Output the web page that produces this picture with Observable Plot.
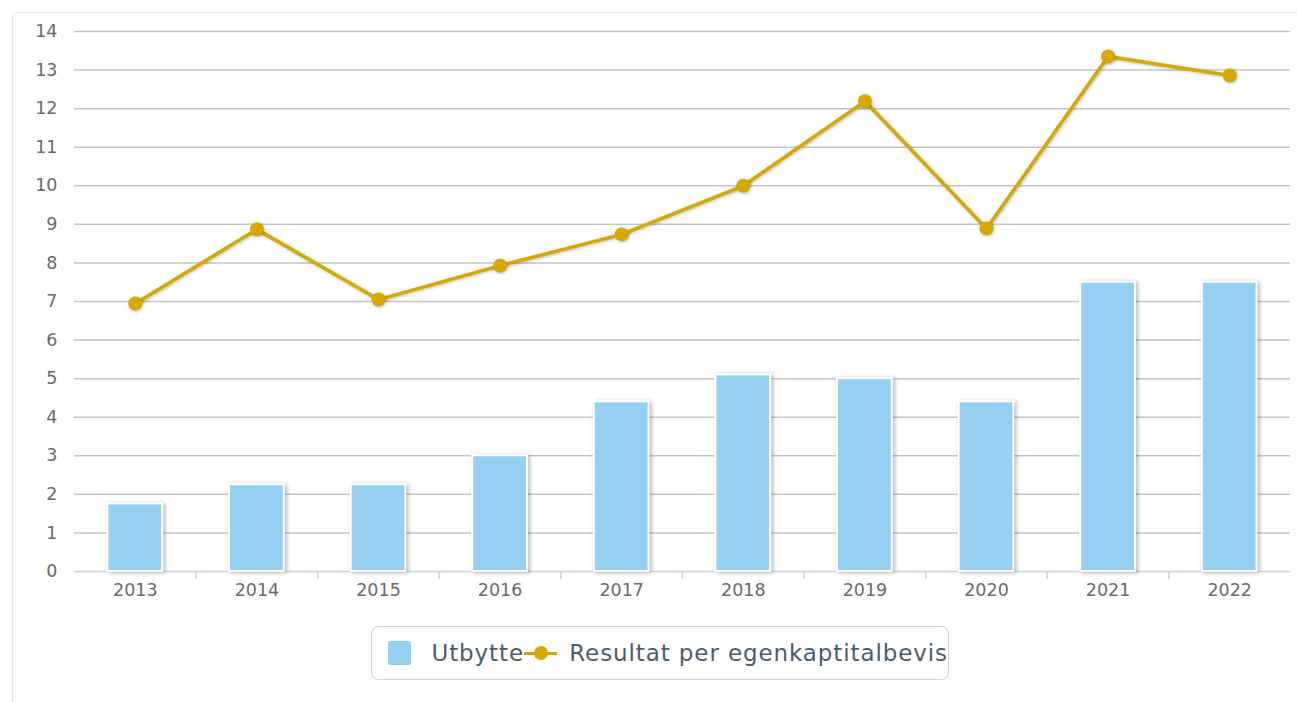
<!DOCTYPE html>
<html>
<head>
<meta charset="utf-8">
<script src="https://cdn.jsdelivr.net/npm/d3@7"></script>
<script src="https://cdn.jsdelivr.net/npm/@observablehq/plot@0.6"></script>
<style>
  html, body { margin: 0; padding: 0; background: #fff; }
  body { width: 1297px; height: 702px; position: relative; overflow: hidden; font-family: "DejaVu Sans", sans-serif; }
  #card { position: absolute; left: 12px; top: 12px; width: 1300px; height: 700px; border: 1px solid #e6e6e6; border-radius: 6px; box-sizing: border-box; }
  #chart { position: absolute; left: 0; top: 0; }
  #chart .bars rect { filter: drop-shadow(2px 1px 2px rgba(0,0,0,0.28)); }
  #chart .lineg { filter: drop-shadow(1px 1px 1.5px rgba(0,0,0,0.25)); }
  #legend { position: absolute; left: 371px; top: 626px; width: 578px; height: 54px; border: 1px solid #cfcfcf; border-radius: 8px; box-sizing: border-box; display: flex; align-items: center; padding-left: 16px; font-size: 23px; letter-spacing: 0.9px; color: #4d5b6b; white-space: nowrap; }
  .sw { display: inline-block; width: 24px; height: 24px; background: #95cff1; border-radius: 2px; margin-right: 20px; }
  .lm { display: inline-block; position: relative; width: 34px; height: 24px; margin: 0 12px 0 0; }
  .lm::before { content: ""; position: absolute; left: 0; right: 0; top: 11px; height: 3px; background: #d6a800; }
  .lm::after { content: ""; position: absolute; left: 10px; top: 5px; width: 14px; height: 14px; border-radius: 50%; background: #d6a800; }
</style>
</head>
<body>
<div id="card"></div>
<div id="chart"></div>
<div id="legend"><span class="sw"></span><span>Utbytte</span><span class="lm"></span><span>Resultat per egenkaptitalbevis</span></div>
<script>
const years = ["2013","2014","2015","2016","2017","2018","2019","2020","2021","2022"];
const utbytte = [1.75, 2.25, 2.25, 3.0, 4.4, 5.1, 5.0, 4.4, 7.5, 7.5];
const resultat = [6.95, 8.87, 7.05, 7.93, 8.74, 10.0, 12.19, 8.89, 13.35, 12.86];
const yTicks = d3.range(0, 15);

const barData = years.map((y, i) => ({year: y, value: utbytte[i]}));
const lineData = years.map((y, i) => ({year: y, value: resultat[i]}));

const W = 1297, H = 615;
const mL = 74, mR = 7, mT = 31, mB = 44;
const step = (W - mL - mR) / years.length;

const plot = Plot.plot({
  width: W,
  height: H,
  marginLeft: mL,
  marginRight: mR,
  marginTop: mT,
  marginBottom: mB,
  style: { fontFamily: "'DejaVu Sans', sans-serif", background: "transparent", overflow: "visible" },
  x: { type: "band", domain: years, paddingInner: 0.55, paddingOuter: 0.275, align: 0.5, round: false, label: null },
  y: { domain: [0, 14], label: null },
  marks: [
    Plot.ruleY(yTicks.filter(d => d > 0), { stroke: "#c4c4c4", strokeWidth: 1.5 }),
    Plot.axisY({ ticks: yTicks, tickSize: 0, tickPadding: 17, fontSize: 17.5, fill: "#6a6a6a", tickFormat: d3.format("d"), label: null }),
    Plot.axisX({ tickSize: 0, tickPadding: 12, fontSize: 17.5, fill: "#6a6a6a", label: null }),
    Plot.ruleY([0], { stroke: "#c2d4e6", strokeWidth: 1.5 }),
    Plot.ruleX(years.slice(1), { x: d => d, dx: -step / 2, y1: 0, y2: 0, stroke: "#c2d4e6", strokeWidth: 1.5, insetBottom: -8 }),
    Plot.barY(barData, { x: "year", y: "value", fill: "#95cff1", stroke: "#fff", strokeWidth: 2, className: "bars" }),
    Plot.line(lineData, { x: "year", y: "value", stroke: "#d6a800", strokeWidth: 3.5, className: "lineg" }),
    Plot.dot(lineData, { x: "year", y: "value", r: 7, fill: "#d6a800", className: "lineg" })
  ]
});
document.getElementById("chart").appendChild(plot);
</script>
</body>
</html>
